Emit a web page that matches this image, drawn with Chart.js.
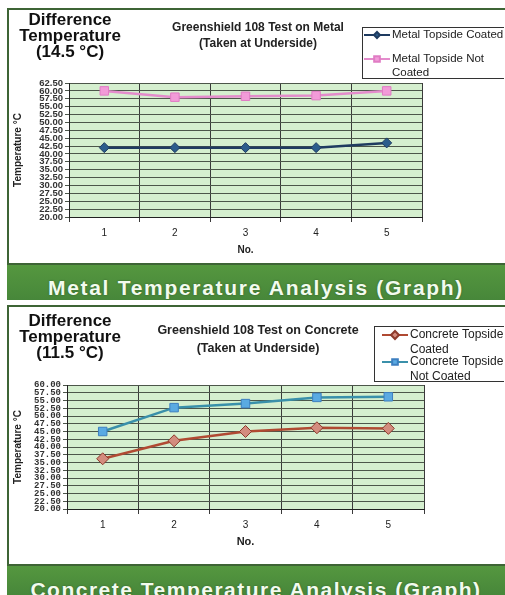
<!DOCTYPE html>
<html><head><meta charset="utf-8">
<script src="https://cdn.jsdelivr.net/npm/chart.js@4.4.0/dist/chart.umd.min.js"></script>
<style>
html,body{margin:0;padding:0}
body{width:505px;height:595px;overflow:hidden;background:#fff;font-family:"Liberation Sans",Arial,sans-serif;position:relative}
.panel{position:absolute;left:7px;width:502px;border:2px solid #3e6435;background:#fff;box-sizing:border-box}
#p1{top:8px;height:257px}
#p2{top:305px;height:261px}
.banner{position:absolute;left:7px;width:498px;background:linear-gradient(#55973f,#47873a);color:#f2fbee;font-weight:bold;text-align:center;white-space:nowrap;overflow:hidden;text-shadow:0 0 2px rgba(0,0,0,.35)}
#b1{top:265px;height:35px;line-height:45px;font-size:21px;letter-spacing:1.7px}
#b2{top:566px;height:29px;line-height:48px;font-size:21px;letter-spacing:1.5px}
.diff{position:absolute;left:0;width:140px;text-align:center;font-weight:bold;font-size:17px;line-height:16px;color:#111}
.ttl{position:absolute;left:130px;width:256px;text-align:center;font-weight:bold;font-size:12px;color:#222}
canvas{position:absolute;left:9px}
#c1{top:10px}
#c2{top:307px}
</style>
</head><body>
<div class="panel" id="p1"></div>
<div class="banner" id="b1">Metal Temperature Analysis (Graph)</div>
<div class="panel" id="p2"></div>
<div class="banner" id="b2">Concrete Temperature Analysis (Graph)</div>
<canvas id="c1" width="495" height="253"></canvas>
<canvas id="c2" width="495" height="257"></canvas>
<div class="diff" style="top:12px">Difference<br>Temperature<br>(14.5 °C)</div>
<div class="ttl" style="top:19px;line-height:16px">Greenshield 108 Test on Metal<br>(Taken at Underside)</div>
<div class="diff" style="top:313px">Difference<br>Temperature<br>(11.5 °C)</div>
<div class="ttl" style="top:321px;line-height:18px;font-size:12.5px">Greenshield 108 Test on Concrete<br>(Taken at Underside)</div>
<script>
// ---- data ----
const categories = ['1', '2', '3', '4', '5'];
const metalSeriesNames = ['Metal Topside Coated', 'Metal Topside Not Coated'];
const metalCoated = [42, 42, 42, 42, 43.5];
const metalNotCoated = [60, 58, 58.3, 58.5, 60];
const concreteSeriesNames = ['Concrete Topside Coated', 'Concrete Topside Not Coated'];
const concreteCoated = [36.2, 42, 45, 46.2, 46];
const concreteNotCoated = [45, 52.7, 54, 56, 56.2];
const metalYMin = 20, metalYMax = 62.5;
const concreteYMin = 20, concreteYMax = 60;
const yStep = 2.5;
const xTitle = 'No.';
const yTitle = 'Temperature °C';

// ---- plugins ----
const plotBg = {
  id: 'plotBg',
  beforeDraw(chart, args, o) {
    const a = chart.chartArea, c = chart.ctx;
    c.save(); c.fillStyle = o.color; c.fillRect(a.left, a.top, a.right - a.left, a.bottom - a.top); c.restore();
  }
};
function wrap(ctx, text, maxW) {
  const words = text.split(' '); const lines = []; let cur = '';
  for (const w of words) {
    const t = cur ? cur + ' ' + w : w;
    if (ctx.measureText(t).width > maxW && cur) { lines.push(cur); cur = w; } else cur = t;
  }
  if (cur) lines.push(cur);
  return lines;
}
const boxLegend = {
  id: 'boxLegend',
  afterDraw(chart, args, o) {
    const c = chart.ctx;
    c.save();
    c.fillStyle = '#fff'; c.fillRect(o.x, o.y, o.w, o.h);
    c.strokeStyle = '#333'; c.lineWidth = 1; c.strokeRect(o.x + .5, o.y + .5, o.w, o.h);
    c.font = o.font; c.textBaseline = 'middle'; c.textAlign = 'left';
    chart.data.datasets.forEach((ds, i) => {
      const y = o.rows[i];
      c.strokeStyle = ds.borderColor; c.lineWidth = 2;
      c.beginPath(); c.moveTo(o.lx, y); c.lineTo(o.lx + o.len, y); c.stroke();
      c.fillStyle = ds.pointBackgroundColor; c.strokeStyle = ds.pointBorderColor;
      Chart.helpers.drawPoint(c, {pointStyle: ds.pointStyle, radius: ds.pointRadius - 2, borderWidth: 1, rotation: 0}, o.lx + o.len / 2, y);
      c.fillStyle = '#222';
      wrap(c, ds.label, o.wrapW).forEach((ln, k) => c.fillText(ln, o.tx, y + k * o.lh));
    });
    c.restore();
  }
};

function makeOptions(yMin, yMax, pad, xH, yW, xTitleFont, xTitlePadB, tickFont, legend) {
  return {
    responsive: false,
    animation: false,
    layout: {padding: pad},
    plugins: {legend: {display: false}, tooltip: {enabled: false}, plotBg: {color: '#d5efcf'}, boxLegend: legend},
    elements: {line: {tension: 0}},
    scales: {
      x: {
        offset: true,
        grid: {color: '#3a3a3a', lineWidth: 1, offset: true, tickLength: 5},
        border: {color: '#222', width: 1},
        ticks: {color: '#222', font: {size: 10, family: 'Liberation Sans'}, padding: 5},
        title: {display: true, text: xTitle, color: '#222', font: {size: xTitleFont, weight: 'bold', family: 'Liberation Sans'}, padding: {top: 0, bottom: xTitlePadB}},
        afterFit(s) { s.height = xH; }
      },
      y: {
        min: yMin, max: yMax,
        grid: {color: '#4c564a', lineWidth: 1, tickLength: 4},
        border: {color: '#222', width: 1},
        ticks: {stepSize: yStep, autoSkip: false, color: '#333', padding: 2, font: tickFont, callback: v => v.toFixed(2)},
        title: {display: true, text: yTitle, color: '#222', font: {size: 10, weight: 'bold', family: 'Liberation Sans'}, padding: {top: 3, bottom: 0}},
        afterFit(s) { s.width = yW; }
      }
    }
  };
}

new Chart(document.getElementById('c1'), {
  type: 'line',
  data: {
    labels: categories,
    datasets: [
      {label: metalSeriesNames[0], data: metalCoated, borderColor: '#1f3b60', borderWidth: 2.5, pointStyle: 'rectRot', pointRadius: 5, pointBackgroundColor: '#2c5d8c', pointBorderColor: '#1f3b60', pointBorderWidth: 1},
      {label: metalSeriesNames[1], data: metalNotCoated, borderColor: '#e48ccc', borderWidth: 2.5, pointStyle: 'rect', pointRadius: 6, pointBackgroundColor: '#f29bd8', pointBorderColor: '#e07cc4', pointBorderWidth: 1}
    ]
  },
  options: makeOptions(metalYMin, metalYMax, {top: 73, right: 82, left: 0, bottom: 0}, 46, 60, 10, 7,
    {size: 9.5, family: 'Liberation Sans Narrow, Liberation Sans', weight: 'bold'},
    {x: 353, y: 17, w: 150, h: 51, lx: 355, len: 26, tx: 383, rows: [25, 49], lh: 14, wrapW: 122, font: '11.5px "Liberation Sans"'}),
  plugins: [plotBg, boxLegend]
});

new Chart(document.getElementById('c2'), {
  type: 'line',
  data: {
    labels: categories,
    datasets: [
      {label: concreteSeriesNames[0], data: concreteCoated, borderColor: '#b04a32', borderWidth: 2.5, pointStyle: 'rectRot', pointRadius: 6, pointBackgroundColor: '#d38c7e', pointBorderColor: '#8e3a2c', pointBorderWidth: 1},
      {label: concreteSeriesNames[1], data: concreteNotCoated, borderColor: '#3a90aa', borderWidth: 2.5, pointStyle: 'rect', pointRadius: 6, pointBackgroundColor: '#5aaae2', pointBorderColor: '#3d7fc0', pointBorderWidth: 1}
    ]
  },
  options: makeOptions(concreteYMin, concreteYMax, {top: 78, right: 80, left: 0, bottom: 0}, 55, 58, 11, 15,
    {size: 9, family: 'Liberation Mono, DejaVu Sans Mono', weight: 'bold'},
    {x: 365, y: 19, w: 140, h: 55, lx: 373, len: 26, tx: 401, rows: [28, 55], lh: 15, wrapW: 98, font: '12px "Liberation Sans"'}),
  plugins: [plotBg, boxLegend]
});
</script>
</body></html>
